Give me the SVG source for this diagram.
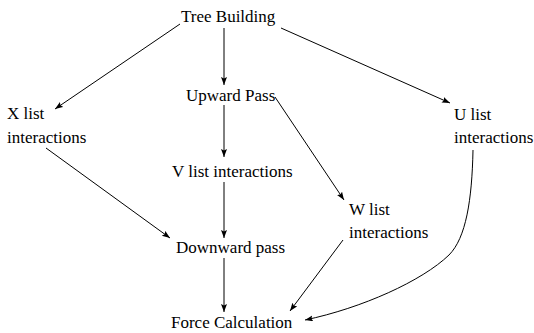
<svg xmlns="http://www.w3.org/2000/svg" width="534" height="333" viewBox="0 0 534 333">
<style>
text{font-family:"Liberation Serif","Times New Roman",serif;font-size:17px;fill:#000}
.c{fill:none;stroke:#000;stroke-width:1}
</style>
<defs>
<marker id="a" markerUnits="userSpaceOnUse" markerWidth="10" markerHeight="8" refX="8" refY="3" orient="auto">
<path d="M0,0 L8,3 L0,6 L1.5,3 z" fill="#000"/>
</marker>
</defs>
<rect width="534" height="333" fill="#fff"/>
<g id="connectors">
<line class="c" x1="180" y1="24" x2="55" y2="109" marker-end="url(#a)"/>
<line class="c" x1="224" y1="28" x2="224" y2="85" marker-end="url(#a)"/>
<line class="c" x1="281" y1="28" x2="450" y2="103" marker-end="url(#a)"/>
<line class="c" x1="224" y1="105" x2="224" y2="157" marker-end="url(#a)"/>
<line class="c" x1="275" y1="97" x2="344" y2="200" marker-end="url(#a)"/>
<line class="c" x1="46" y1="148" x2="170" y2="238" marker-end="url(#a)"/>
<line class="c" x1="224" y1="182" x2="224" y2="238" marker-end="url(#a)"/>
<line class="c" x1="224" y1="258" x2="224" y2="312" marker-end="url(#a)"/>
<line class="c" x1="343" y1="240" x2="290" y2="311" marker-end="url(#a)"/>
<path class="c" d="M473,150 C472,200 466,238 449,255 C422,281 362,308 305,320" marker-end="url(#a)"/>
</g>
<g id="tree"><text x="181" y="22">Tree Building</text></g>
<g id="upward"><text x="186" y="101">Upward Pass</text></g>
<g id="xlist"><text x="7" y="119">X list</text><text x="7" y="143">interactions</text></g>
<g id="ulist"><text x="454" y="120">U list</text><text x="454" y="143">interactions</text></g>
<g id="vlist"><text x="172" y="177">V list interactions</text></g>
<g id="wlist"><text x="349" y="215">W list</text><text x="349" y="238">interactions</text></g>
<g id="downward"><text x="176" y="253">Downward pass</text></g>
<g id="force"><text x="171" y="328">Force Calculation</text></g>
</svg>
